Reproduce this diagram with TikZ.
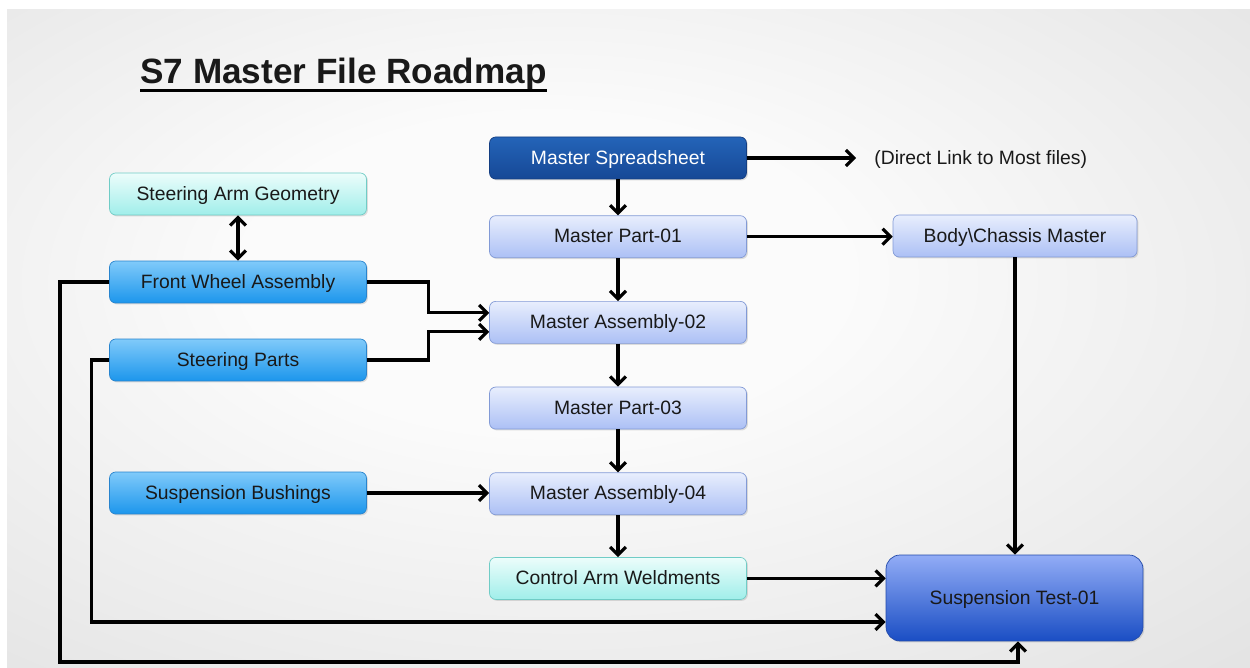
\documentclass[tikz,border=0pt]{standalone}
\usepackage{fontspec}
\setmainfont{Liberation Sans}
\usetikzlibrary{positioning,arrows.meta,shadows}

\definecolor{slideEdge}{RGB}{206,206,206}
\definecolor{slideSide}{RGB}{221,221,221}
\definecolor{slideMid}{RGB}{251,251,251}
\definecolor{sheetTop}{RGB}{36,100,184}
\definecolor{sheetBot}{RGB}{22,72,150}
\definecolor{sheetLine}{RGB}{20,62,130}
\definecolor{partTop}{RGB}{232,238,253}
\definecolor{partBot}{RGB}{172,192,245}
\definecolor{partLine}{RGB}{130,154,214}
\definecolor{weldTop}{RGB}{236,253,251}
\definecolor{weldBot}{RGB}{160,238,234}
\definecolor{weldLine}{RGB}{112,204,198}
\definecolor{wheelTop}{RGB}{128,202,250}
\definecolor{wheelBot}{RGB}{28,150,236}
\definecolor{wheelLine}{RGB}{40,132,206}
\definecolor{testTop}{RGB}{146,172,246}
\definecolor{testBot}{RGB}{26,78,196}
\definecolor{testLine}{RGB}{34,74,170}

% soft light in the middle, grey towards the corners
\pgfdeclareradialshading{slidelight}{\pgfpoint{-4bp}{6bp}}{%
  color(0bp)=(slideMid); color(12bp)=(slideMid);
  color(46bp)=(slideSide); color(72bp)=(slideEdge)}

\begin{document}
\begin{tikzpicture}[
      x=0.02cm, y=-0.02cm,
      every node/.style={font=\fontsize{11}{13}\selectfont, align=center, text=black!90,
                         text height=8pt, text depth=1pt},
      box/.style={rectangle, draw, thin, rounded corners=3.5pt,
                  minimum width=5.14cm, minimum height=0.84cm, inner sep=2pt,
                  drop shadow={shadow xshift=0.8pt, shadow yshift=-0.8pt, opacity=0.25}},
      sheet/.style={box, top color=sheetTop, bottom color=sheetBot, draw=sheetLine, text=white},
      master/.style={box, top color=partTop, bottom color=partBot, draw=partLine},
      weld/.style={box, top color=weldTop, bottom color=weldBot, draw=weldLine},
      wheel/.style={box, top color=wheelTop, bottom color=wheelBot, draw=wheelLine},
      test/.style={box, top color=testTop, bottom color=testBot, draw=testLine,
                   rounded corners=8pt, minimum height=1.72cm},
      arr/.style={-{Straight Barb[length=4.5pt, width=9pt]}, line width=1.8pt},
      dbl/.style={{Straight Barb[length=4.5pt, width=9pt]}-{Straight Barb[length=4.5pt, width=9pt]}, line width=1.8pt},
    ]
    % slide background with its white strip on top and left
    \useasboundingbox (0,0) rectangle (1250,668);
    \shade[shading=slidelight] (7,10) rectangle (1250,668);

    \node[anchor=base west, font=\bfseries\fontsize{20}{24}\selectfont, inner sep=0pt] (title)
      at (140,84) {S7 Master File Roadmap};
    \draw[line width=1.6pt] ([yshift=-3.5pt]title.base west) -- ([yshift=-3.5pt]title.base east);

    % middle column, master files top to bottom
    \node[sheet] (sheet) at (618,158) {Master Spreadsheet};
    \node[master, below=0.72cm of sheet] (part1) {Master Part-01};
    \node[master, below=0.86cm of part1] (asm2) {Master Assembly-02};
    \node[master, below=0.86cm of asm2] (part3) {Master Part-03};
    \node[master, below=0.86cm of part3] (asm4) {Master Assembly-04};
    \node[weld, below=0.84cm of asm4] (weld) {Control Arm Weldments};

    % left column
    \node[weld] (geo) at (238,194) {Steering Arm Geometry};
    \node[wheel] (fwa) at (238,282) {Front Wheel Assembly};
    \node[wheel] (steer) at (238,360) {Steering Parts};
    \node[wheel] (bush) at (238,493) {Suspension Bushings};

    % right column
    \node[anchor=west, inner sep=0pt] (link) at (874,158) {(Direct Link to Most files)};
    \node[master, minimum width=4.88cm] (body) at (1015,236) {Body\textbackslash Chassis Master};
    \node[test] (stest) at (1014.5,598) {Suspension Test-01};

    \draw[arr, shorten >=0.36cm] (sheet.east) -- (link.west);
    \draw[arr] (sheet) -- (part1);
    \draw[arr] (part1) -- (asm2);
    \draw[arr] (asm2) -- (part3);
    \draw[arr] (part3) -- (asm4);
    \draw[arr] (asm4) -- (weld);
    \draw[arr] (part1.east) -- (part1.east -| body.west);
    \draw[arr] (body.south) -- (body.south |- stest.north);
    \draw[dbl] (geo) -- (fwa);
    % two feeds into the second assembly
    \draw[arr] (fwa.east) -- ++(62,0) |- ([yshift=0.19cm]asm2.west);
    \draw[arr] (steer.east) -- ++(62,0) |- ([yshift=-0.19cm]asm2.west);
    \draw[arr] (bush.east) -- (bush.east -| asm4.west);
    \draw[arr] (weld.east) -- (weld.east -| stest.west);
    % long returns round the outside to the test
    \coordinate (lowrail) at (60,662);
    \draw[arr] (steer.west) -- ++(-18,0) |- ([yshift=-0.48cm]stest.west);
    \draw[arr] (fwa.west) -| (lowrail) -| ([xshift=2pt]stest.south);
  \end{tikzpicture}
\end{document}
